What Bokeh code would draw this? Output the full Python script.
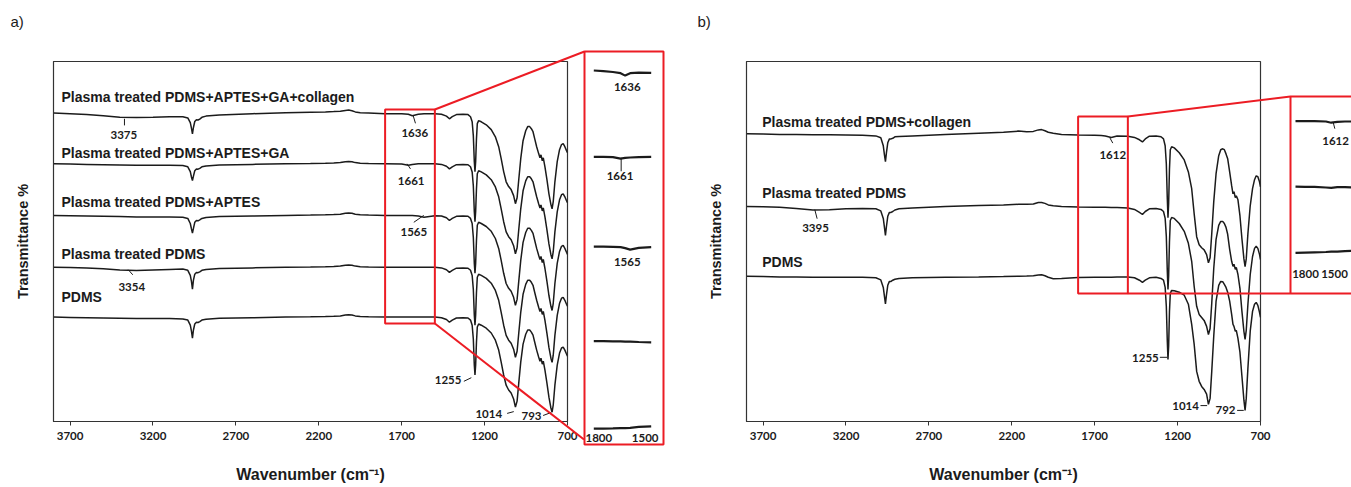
from bokeh.plotting import figure
from bokeh.models import Range1d, FixedTicker
from bokeh.layouts import row
from bokeh.embed import file_html
from bokeh.resources import INLINE
from bokeh.core.properties import value

# ---------------- data ----------------
wavenumber = [
    3800, 3700, 3600, 3500, 3400, 3300, 3200, 3100, 3020, 2990,
    2975, 2968, 2962, 2956, 2948, 2938, 2928, 2918, 2905, 2880,
    2800, 2600, 2400, 2250, 2160, 2110, 2070, 2040, 2020, 2000,
    1980, 1950, 1900, 1800, 1700, 1660, 1636, 1600, 1565, 1500,
    1460, 1430, 1412, 1395, 1370, 1330, 1300, 1285, 1275, 1268,
    1262, 1258, 1254, 1249, 1244, 1236, 1220, 1190, 1160, 1135,
    1115, 1100, 1085, 1070, 1055, 1040, 1025, 1014, 1004, 994,
    982, 968, 952, 940, 928, 918, 908, 898, 886, 874,
    866, 860, 852, 846, 836, 824, 812, 800, 793, 786,
    776, 762, 748, 736, 726, 716, 706, 700]

# panel a (transmittance, offset traces)
pdms_a = [
    34.8, 34.7, 34.6, 34.5, 34.4, 34.3, 34.3, 34.3, 34.2, 33.8,
    32.1, 30.1, 27.8, 30.5, 32.5, 33.1, 33.0, 33.3, 33.8, 34.1,
    34.4, 34.6, 34.8, 34.9, 35.0, 35.1, 35.2, 35.5, 35.6, 35.5,
    35.2, 35.0, 34.9, 34.8, 34.8, 34.8, 34.8, 34.8, 34.8, 34.8,
    34.6, 34.0, 33.1, 33.8, 34.5, 34.6, 34.5, 33.8, 32.1, 27.5,
    18.8, 15.5, 18.8, 26.5, 31.5, 32.5, 32.1, 31.1, 29.5, 27.1,
    23.8, 19.8, 15.5, 12.1, 10.5, 9.5, 7.5, 4.8, 6.8, 12.8,
    19.8, 25.8, 29.1, 30.5, 30.5, 29.8, 28.8, 26.5, 23.8, 21.5,
    20.1, 21.1, 19.1, 20.1, 17.1, 12.8, 8.1, 4.5, 3.1, 5.5,
    12.1, 18.8, 22.8, 24.5, 24.8, 23.8, 22.5, 21.8]
plasma_a = [
    51.4, 51.3, 51.2, 50.9, 50.5, 50.3, 50.5, 50.7, 50.8, 50.4,
    48.7, 46.7, 44.1, 47.1, 49.1, 49.7, 49.6, 49.9, 50.4, 50.7,
    51.0, 51.2, 51.4, 51.5, 51.6, 51.7, 51.8, 52.1, 52.2, 52.1,
    51.8, 51.6, 51.5, 51.4, 51.4, 51.4, 51.4, 51.4, 51.4, 51.4,
    51.2, 50.6, 49.7, 50.4, 51.1, 51.2, 51.1, 50.4, 48.7, 44.1,
    35.4, 32.1, 35.4, 43.1, 48.1, 49.1, 48.7, 47.7, 46.1, 43.7,
    40.4, 36.4, 32.1, 28.7, 27.1, 26.1, 24.1, 21.4, 23.4, 29.4,
    36.4, 42.4, 45.7, 47.1, 47.1, 46.4, 45.4, 43.1, 40.4, 38.1,
    36.7, 37.7, 35.7, 36.7, 33.7, 29.4, 24.7, 21.1, 19.7, 22.1,
    28.7, 35.4, 39.4, 41.1, 41.4, 40.4, 39.1, 38.4]
aptes_a = [
    68.7, 68.6, 68.5, 68.4, 68.3, 68.2, 68.2, 68.2, 68.1, 67.7,
    66.0, 64.2, 62.8, 64.4, 66.4, 67.0, 66.9, 67.2, 67.7, 68.0,
    68.3, 68.5, 68.7, 68.8, 68.9, 69.0, 69.1, 69.4, 69.5, 69.4,
    69.1, 68.9, 68.8, 68.7, 68.7, 68.7, 68.7, 68.5, 68.1, 68.6,
    68.5, 67.9, 67.0, 67.7, 68.4, 68.5, 68.4, 67.7, 66.0, 61.4,
    52.7, 49.4, 52.7, 60.4, 65.4, 66.4, 66.0, 65.0, 63.4, 61.0,
    57.7, 53.7, 49.4, 46.0, 44.4, 43.4, 41.4, 38.7, 40.7, 46.7,
    53.7, 59.7, 63.0, 64.4, 64.4, 63.7, 62.7, 60.4, 57.7, 55.4,
    54.0, 55.0, 53.0, 54.0, 51.0, 46.7, 42.0, 38.4, 37.0, 39.4,
    46.0, 52.7, 56.7, 58.4, 58.7, 57.7, 56.4, 55.7]
ga_a = [
    85.9, 85.8, 85.7, 85.6, 85.5, 85.4, 85.4, 85.4, 85.3, 84.9,
    83.3, 81.5, 80.3, 81.8, 83.6, 84.2, 84.1, 84.4, 84.9, 85.2,
    85.5, 85.7, 85.9, 86.0, 86.1, 86.2, 86.3, 86.6, 86.7, 86.6,
    86.3, 86.1, 86.0, 85.9, 85.8, 85.4, 85.7, 85.9, 85.9, 85.9,
    85.7, 85.1, 84.2, 84.9, 85.6, 85.7, 85.6, 84.9, 83.2, 78.6,
    69.9, 66.6, 69.9, 77.6, 82.6, 83.6, 83.2, 82.2, 80.6, 78.2,
    74.9, 70.9, 66.6, 63.2, 61.6, 60.6, 58.6, 55.9, 57.9, 63.9,
    70.9, 76.9, 80.2, 81.6, 81.6, 80.9, 79.9, 77.6, 74.9, 72.6,
    71.2, 72.2, 70.2, 71.2, 68.2, 63.9, 59.2, 55.6, 54.2, 56.6,
    63.2, 69.9, 73.9, 75.6, 75.9, 74.9, 73.6, 72.9]
collagen_a = [
    102.8, 102.6, 102.3, 101.9, 101.4, 101.3, 101.4, 101.6, 101.6, 101.2,
    99.6, 97.8, 95.9, 98.0, 100.0, 100.6, 100.5, 100.8, 101.4, 101.8,
    102.2, 102.6, 102.9, 103.1, 103.2, 103.3, 103.4, 103.7, 103.8, 103.6,
    103.2, 102.9, 102.8, 102.6, 102.6, 102.4, 101.9, 102.4, 102.6, 102.6,
    102.4, 101.8, 100.9, 101.6, 102.3, 102.4, 102.3, 101.6, 99.9, 95.3,
    86.6, 83.3, 86.6, 94.3, 99.3, 100.3, 99.9, 98.9, 97.3, 94.9,
    91.6, 87.6, 83.3, 79.9, 78.3, 77.3, 75.3, 72.6, 74.6, 80.6,
    87.6, 93.6, 96.9, 98.3, 98.3, 97.6, 96.6, 94.3, 91.6, 89.3,
    87.9, 88.9, 86.9, 87.9, 84.9, 80.6, 75.9, 72.3, 70.9, 73.3,
    79.9, 86.6, 90.6, 92.3, 92.6, 91.6, 90.3, 89.6]

# panel b
collagen_b = [
    95.9, 95.8, 95.7, 95.7, 95.6, 95.6, 95.5, 95.4, 95.2, 94.6,
    91.9, 88.9, 86.6, 89.6, 92.9, 94.2, 94.2, 94.4, 94.9, 95.0,
    95.2, 95.7, 96.1, 96.4, 96.8, 96.6, 96.7, 97.2, 97.3, 96.9,
    96.4, 96.1, 95.7, 95.5, 95.4, 95.3, 95.2, 94.7, 95.2, 95.1,
    94.7, 93.9, 93.2, 94.2, 95.1, 95.2, 94.9, 94.2, 91.9, 85.9,
    74.2, 67.9, 72.6, 84.2, 90.6, 91.6, 91.2, 89.6, 87.2, 83.2,
    77.6, 69.2, 61.6, 58.9, 57.9, 57.2, 55.6, 52.9, 54.6, 62.6,
    73.2, 82.6, 88.6, 90.6, 90.9, 90.6, 89.2, 87.6, 83.2, 78.6,
    75.9, 76.6, 74.6, 75.2, 73.9, 68.6, 60.9, 54.2, 51.6, 54.2,
    62.6, 71.9, 77.6, 80.6, 81.9, 81.6, 79.9, 78.2]
plasma_b = [
    71.7, 71.6, 71.4, 71.0, 70.5, 70.6, 70.9, 71.0, 70.9, 70.2,
    67.7, 64.7, 62.0, 65.0, 68.4, 69.7, 69.7, 70.0, 70.5, 70.9,
    71.2, 71.7, 72.0, 72.2, 72.4, 72.4, 72.5, 73.0, 73.0, 72.7,
    72.2, 71.9, 71.7, 71.5, 71.4, 71.4, 71.4, 71.3, 71.3, 71.2,
    70.7, 69.7, 69.0, 70.0, 70.9, 71.0, 70.7, 70.0, 67.7, 61.7,
    50.0, 44.0, 48.4, 60.0, 67.0, 68.0, 67.7, 66.0, 63.4, 59.4,
    53.4, 45.0, 38.4, 35.7, 34.7, 33.7, 31.7, 29.0, 31.0, 39.4,
    51.0, 60.7, 65.4, 66.7, 66.7, 66.0, 64.7, 62.4, 57.4, 53.4,
    51.7, 52.4, 50.7, 51.4, 49.0, 44.4, 36.7, 30.0, 27.4, 30.4,
    39.0, 49.0, 55.0, 57.7, 58.4, 57.7, 55.7, 54.0]
pdms_b = [
    48.4, 48.3, 48.2, 48.2, 48.1, 48.1, 48.1, 48.1, 47.9, 47.2,
    44.7, 41.7, 39.2, 42.1, 45.4, 46.7, 46.7, 47.1, 47.4, 47.7,
    47.9, 48.1, 48.2, 48.3, 48.4, 48.5, 48.6, 48.8, 48.9, 48.6,
    48.1, 47.6, 47.7, 48.0, 48.1, 48.1, 48.1, 48.1, 48.2, 48.2,
    47.9, 47.1, 46.4, 47.1, 47.9, 48.1, 47.7, 47.1, 44.7, 38.4,
    26.7, 20.7, 25.1, 36.7, 42.7, 43.7, 43.6, 43.1, 42.1, 39.1,
    32.4, 25.7, 16.7, 13.4, 11.7, 10.7, 9.1, 5.7, 7.7, 16.7,
    28.4, 40.1, 45.4, 46.7, 46.6, 45.7, 44.7, 43.1, 40.1, 35.7,
    32.4, 31.7, 30.1, 30.4, 27.7, 23.1, 15.1, 7.1, 3.7, 7.7,
    17.7, 30.1, 36.7, 39.1, 39.7, 38.7, 36.4, 34.7]

# magnified 1800-1500 cm-1 windows (inset traces)
inset_wn_a = [1800, 1750, 1700, 1660, 1636, 1610, 1565, 1500]
inset_collagen_a = [117.0, 116.8, 116.5, 116.1, 115.3, 116.1, 116.3, 116.2]
inset_ga_a = [88.2, 88.2, 88.1, 87.6, 87.9, 88.0, 88.1, 88.2]
inset_aptes_a = [58.3, 58.3, 58.2, 58.1, 57.8, 57.3, 57.9, 58.1]
inset_plasma_a = [26.8, 26.8, 26.7, 26.7, 26.6, 26.6, 26.5, 26.4]
inset_pdms_a = [-2.4, -2.4, -2.3, -2.2, -2.2, -2.1, -1.8, -1.6]

inset_wn_b = [1800, 1750, 1700, 1640, 1612, 1580, 1540, 1500]
inset_collagen_b = [100.1, 100.1, 100.1, 100.0, 99.6, 99.9, 100.0, 100.0]
inset_plasma_b = [78.3, 78.2, 78.2, 78.0, 77.9, 78.1, 78.1, 78.0]
inset_pdms_b = [56.2, 56.3, 56.4, 56.5, 56.6, 56.6, 56.8, 56.9]

x_ticks = [3700, 3200, 2700, 2200, 1700, 1200, 700]
names_a = ["Plasma treated PDMS+APTES+GA+collagen", "Plasma treated PDMS+APTES+GA",
           "Plasma treated PDMS+APTES", "Plasma treated PDMS", "PDMS"]
names_b = ["Plasma treated PDMS+collagen", "Plasma treated PDMS", "PDMS"]

# ---------------- styling / layout ----------------
INK = "#1b1b1b"
RED = "#ec1c24"
NAME_FONT = "Liberation Sans"
NUM_FONT = "Lato"
FRAME_W = 514
FRAME_TOP, FRAME_BOTTOM = 61, 421      # page pixels
X0, X1 = 3800, 700
Y0, Y1 = 0, 120
HEIGHT = 487
TRACE_W = 1.5


def vy(py):
    return Y0 + (FRAME_BOTTOM - py) * (Y1 - Y0) / (FRAME_BOTTOM - FRAME_TOP)


def make_wx(frame_left):
    return lambda px: X0 + (px - frame_left) * (X1 - X0) / FRAME_W


def pixel_range(frame_left, px_a, val_a, px_b, val_b):
    k = (val_b - val_a) / (px_b - px_a)
    return Range1d(val_a + (frame_left - px_a) * k,
                   val_a + (frame_left + FRAME_W - px_a) * k)


def panel(width, left_border):
    p = figure(width=width, height=HEIGHT, x_range=Range1d(X0, X1), y_range=Range1d(Y0, Y1),
               output_backend="svg", toolbar_location=None,
               min_border_left=left_border, min_border_right=width - left_border - FRAME_W,
               min_border_top=FRAME_TOP, min_border_bottom=HEIGHT - FRAME_BOTTOM)
    p.background_fill_color = "white"
    p.border_fill_color = "white"
    p.outline_line_color = "#333333"
    p.outline_line_width = 1.2
    p.grid.visible = False

    xa = p.xaxis[0]
    xa.ticker = FixedTicker(ticks=x_ticks)
    xa.axis_line_color = "#333333"
    xa.major_tick_line_color = "#333333"
    xa.major_tick_out = 4
    xa.major_tick_in = 0
    xa.minor_tick_line_color = None
    xa.major_label_standoff = 6
    xa.major_label_text_font = NUM_FONT
    xa.major_label_text_font_style = "bold"
    xa.major_label_text_font_size = "11.5px"
    xa.major_label_text_color = INK
    xa.axis_label = "Wavenumber (cm\u207b\u00b9)"
    xa.axis_label_text_font = NAME_FONT
    xa.axis_label_text_font_style = "bold"
    xa.axis_label_text_font_size = "16px"
    xa.axis_label_text_color = INK
    xa.axis_label_standoff = 23

    ya = p.yaxis[0]
    ya.ticker = FixedTicker(ticks=[])
    ya.axis_line_color = "#333333"
    ya.major_tick_line_color = None
    ya.minor_tick_line_color = None
    ya.major_label_standoff = 0
    ya.axis_label = "Transmittance %"
    ya.axis_label_text_font = NAME_FONT
    ya.axis_label_text_font_style = "bold"
    ya.axis_label_text_font_size = "14.5px"
    ya.axis_label_text_color = INK
    ya.axis_label_standoff = 23
    return p


def texts(p, xs, ys, labels, size, font, align="center", x_range_name="default",
          x_offset=0, style="bold"):
    p.text(x=xs, y=ys, text=labels, text_font=value(font), text_font_size=value(size),
           text_font_style=style, text_align=align, text_baseline="middle", text_color=INK,
           x_offset=x_offset, level="overlay", x_range_name=x_range_name)


def leaders(p, x0, y0, x1, y1, x_range_name="default"):
    p.segment(x0=x0, y0=y0, x1=x1, y1=y1, line_color=INK, line_width=1,
              level="overlay", x_range_name=x_range_name)


# ---------------- panel a ----------------
left_a = 53
wx_a = make_wx(left_a)
pa = panel(690, left_a)
pa.extra_x_ranges = {"inset": pixel_range(left_a, 593.3, 1800, 650.7, 1500)}

texts(pa, [wx_a(10)], [vy(21)], ["a)"], "15px", NAME_FONT, align="left", style="normal")

for series in [collagen_a, ga_a, aptes_a, plasma_a, pdms_a]:
    pa.line(wavenumber, series, line_color=INK, line_width=TRACE_W)

texts(pa, [3752] * 5, [108.1, 89.4, 73.3, 55.7, 41.4], names_a, "14px", NAME_FONT, align="left")
texts(pa, [3376, 1621, 1643, 1627, 3328, 1420, 1175, 917],
      [95.6, 96.2, 80.3, 63.3, 44.8, 13.7, 2.6, 2.0],
      ["3375", "1636", "1661", "1565", "3354", "1255", "1014", "793"], "11.5px", NUM_FONT)
leaders(pa, [3372, 1631, 1667, 1567, 3349, 1325, 1064, 847],
        [100.9, 102.0, 85.9, 68.7, 50.6, 13.4, 2.7, 2.0],
        [3372, 1617, 1647, 1627, 3322, 1280, 1024, 799],
        [98.7, 99.4, 84.2, 66.4, 48.9, 14.6, 3.3, 3.0])

# zoom box, connectors, inset frame
pa.quad(left=1800, right=1500, top=vy(109), bottom=vy(323), fill_color=None,
        line_color=RED, line_width=2, level="overlay")
pa.line([1500, wx_a(584)], [vy(109), vy(51)], line_color=RED, line_width=2, level="overlay")
pa.line([1500, wx_a(583.5)], [vy(323), vy(439)], line_color=RED, line_width=2, level="overlay")
pa.quad(left=wx_a(584), right=wx_a(663), top=vy(51), bottom=vy(444), fill_color=None,
        line_color=RED, line_width=2, level="overlay")

for series in [inset_collagen_a, inset_ga_a, inset_aptes_a, inset_plasma_a, inset_pdms_a]:
    pa.line(inset_wn_a, series, line_color=INK, line_width=2.2, level="overlay",
            x_range_name="inset")
texts(pa, [1625, 1663, 1625], [111.4, 81.7, 53.1], ["1636", "1661", "1565"], "11.5px",
      NUM_FONT, x_range_name="inset")
leaders(pa, [1657], [87.9], [1657], [83.4], x_range_name="inset")
texts(pa, [1800], [vy(437.3)], ["1800"], "11.5px", NUM_FONT, x_range_name="inset", x_offset=5)
texts(pa, [1500], [vy(437.3)], ["1500"], "11.5px", NUM_FONT, x_range_name="inset", x_offset=-6)

# ---------------- panel b ----------------
left_b_page = 746
fig_b_left = 690
wx_b = make_wx(left_b_page)
pb = panel(661, left_b_page - fig_b_left)
pb.extra_x_ranges = {"inset": pixel_range(left_b_page, 1295, 1800, 1352, 1500)}

texts(pb, [wx_b(697)], [vy(21)], ["b)"], "15px", NAME_FONT, align="left", style="normal")

for series in [collagen_b, plasma_b, pdms_b]:
    pb.line(wavenumber, series, line_color=INK, line_width=TRACE_W)

texts(pb, [3705] * 3, [99.8, 76.2, 53.1], names_b, "14px", NAME_FONT, align="left")
texts(pb, [1591, 3384, 1394, 1152, 911], [88.9, 64.4, 21.1, 5.3, 3.7],
      ["1612", "3395", "1255", "1014", "792"], "11.5px", NUM_FONT)
leaders(pb, [1609, 3388, 1307, 1062, 841], [94.6, 70.6, 21.4, 5.3, 3.7],
        [1591, 3374, 1263, 1022, 801], [92.8, 67.6, 21.4, 5.3, 3.7])

pb.quad(left=1800, right=1500, top=vy(116), bottom=vy(293), fill_color=None,
        line_color=RED, line_width=2, level="overlay")
pb.line([1500, wx_b(1290)], [vy(116), vy(96)], line_color=RED, line_width=2, level="overlay")
pb.line([1500, wx_b(1400)], [vy(293), vy(293)], line_color=RED, line_width=2, level="overlay")
pb.line([wx_b(1400), wx_b(1290), wx_b(1290)], [vy(96), vy(96), vy(293)],
        line_color=RED, line_width=2, level="overlay")

for series in [inset_collagen_b, inset_plasma_b, inset_pdms_b]:
    pb.line(inset_wn_b, series, line_color=INK, line_width=2.2, level="overlay",
            x_range_name="inset")
texts(pb, [1589], [93.4], ["1612"], "11.5px", NUM_FONT, x_range_name="inset")
leaders(pb, [1602], [99.8], [1593], [97.6], x_range_name="inset")
texts(pb, [1800], [vy(273.3)], ["1800"], "11.5px", NUM_FONT, x_range_name="inset", x_offset=10)
texts(pb, [1500], [vy(273.3)], ["1500"], "11.5px", NUM_FONT, x_range_name="inset", x_offset=-18)

layout = row(pa, pb)
open("out.html", "w").write(file_html(layout, INLINE))
